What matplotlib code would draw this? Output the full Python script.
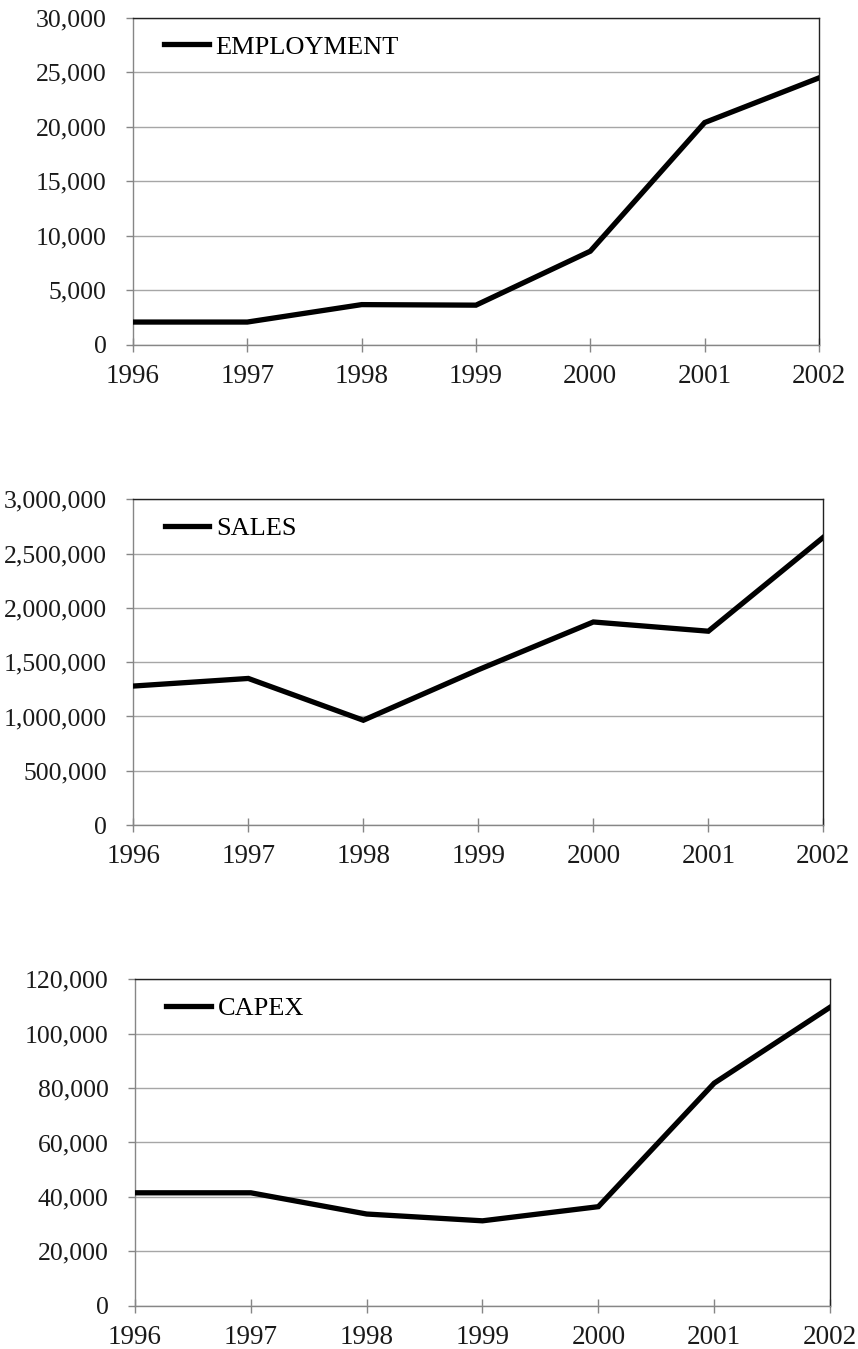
import matplotlib
matplotlib.use("Agg")
import matplotlib.pyplot as plt
from matplotlib.ticker import FuncFormatter

years = ["1996", "1997", "1998", "1999", "2000", "2001", "2002"]
employment = [2100, 2100, 3700, 3650, 8600, 20400, 24500]
sales = [1280000, 1350000, 965000, 1430000, 1870000, 1785000, 2650000]
capex = [41500, 41500, 33700, 31200, 36400, 81800, 109700]

panels = [
    ("EMPLOYMENT", employment, 30000, 5000, [0.155, 0.7443, 0.7995, 0.2424]),
    ("SALES", sales, 3000000, 500000, [0.1554, 0.3884, 0.8042, 0.2415]),
    ("CAPEX", capex, 120000, 20000, [0.1573, 0.0321, 0.8101, 0.2420]),
]

plt.rcParams["font.family"] = ["Liberation Serif", "DejaVu Serif"]

fig = plt.figure(figsize=(8.58, 13.49), dpi=100)
thousands = FuncFormatter(lambda v, _: f"{int(v):,}")

for name, values, ymax, step, rect in panels:
    ax = fig.add_axes(rect)
    x = list(range(len(years)))
    ax.plot(x, values, color="black", lw=3.8, solid_joinstyle="miter",
            label=name, zorder=3)
    ax.set_xlim(0, len(years) - 1)
    ax.set_ylim(0, ymax)
    ax.set_xticks(x)
    ax.set_xticklabels(years)
    ax.set_yticks(range(0, ymax + 1, step))
    ax.yaxis.set_major_formatter(thousands)
    ax.grid(axis="y", color="#a6a6a6", lw=1.0)
    ax.set_axisbelow(True)
    for side in ("left", "bottom"):
        ax.spines[side].set_color("#868686")
        ax.spines[side].set_linewidth(1.0)
    for side in ("top", "right"):
        ax.spines[side].set_color("#222222")
        ax.spines[side].set_linewidth(1.0)
    ax.tick_params(axis="x", direction="inout", length=10, width=1,
                   color="#868686", labelsize=19.5, pad=9, labelcolor="#1a1a1a")
    ax.tick_params(axis="y", direction="out", length=5, width=1,
                   color="#868686", labelsize=18.5, pad=14, labelcolor="#1a1a1a")
    ax.legend(loc="upper left", bbox_to_anchor=(0.03, 0.98),
              frameon=False, fontsize=19, handlelength=1.7,
              handletextpad=0.25, borderaxespad=0.0)

fig.savefig("out.png", dpi=100)
